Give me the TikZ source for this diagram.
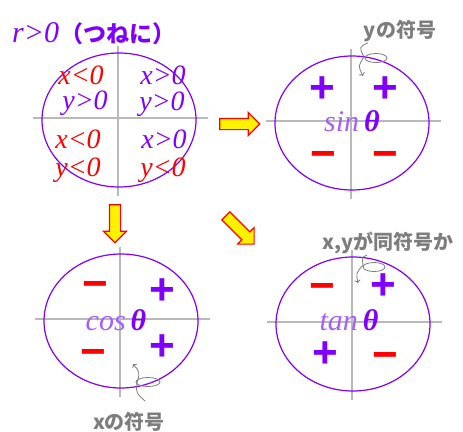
\documentclass[tikz,border=0pt]{standalone}
\usepackage{fontspec}
\setmainfont{Liberation Serif}
\newfontfamily\jpfont{Noto Sans CJK JP}
\newfontfamily\signfont{Liberation Sans}
\usetikzlibrary{shapes.arrows, arrows.meta}
\definecolor{sgnviolet}{RGB}{128,0,255}
\definecolor{fnviolet}{RGB}{165,95,255}
\definecolor{axisgray}{RGB}{185,185,185}
\definecolor{notegray}{RGB}{125,125,125}
\tikzset{
  ring/.style={draw=sgnviolet, line width=1.2pt},
  axisline/.style={draw=axisgray, line width=1.5pt},
  cond/.style={font=\fontsize{28}{28}\selectfont\itshape, inner sep=0pt},
  plus/.style={text=sgnviolet, font=\signfont\bfseries\fontsize{44}{44}\selectfont,
    inner sep=0pt, text height=25pt, text depth=0pt},
  minus/.style={plus, text=red},
  fn/.style={font=\fontsize{30}{30}\selectfont, inner sep=0pt, text depth=0pt},
  note/.style={text=notegray, font=\jpfont\bfseries\fontsize{20}{20}\selectfont, inner sep=1pt},
  callout/.style={draw=notegray, line width=0.8pt},
  blockarrow/.style={single arrow, draw=red, fill=yellow, line width=1.2pt,
    inner sep=5pt, minimum width=22pt, minimum height=40pt,
    single arrow head extend=6pt}
}
\begin{document}
\begin{tikzpicture}[x=1pt, y=-1pt]
\useasboundingbox (0,0) rectangle (463,431);

\foreach \p/\cx/\cy in {tl/118/118, tr/351/121, bl/120/319, br/352/322}
{
  \coordinate (\p) at (\cx,\cy);
  \draw[axisline] (\cx-85,\cy) -- (\cx+90,\cy);
  \draw[axisline] (\cx,\cy-72) -- (\cx,\cy+78);
  \draw[ring] (\cx+1,\cy+2) ellipse (77 and 67);
}

\node[anchor=west, text=sgnviolet, inner sep=0pt] (rpos) at (12,34)
  {{\fontsize{30}{30}\selectfont\itshape r>0}\,{\jpfont\bfseries\fontsize{23}{23}\selectfont （つねに）}};

\foreach \lbl/\col/\px/\py [count=\i] in {
  x<0/red/81/75, y>0/sgnviolet/85/103,
  x>0/sgnviolet/163/75, y>0/sgnviolet/162/104,
  x<0/red/78/139, y<0/red/78/170,
  x>0/sgnviolet/164/139, y<0/red/163/170}
{
  \node[cond, text=\col] (cond\i) at (\px,\py) {\lbl};
}

\node[blockarrow] (toSin) at (237,124) {};
\node[blockarrow, shape border rotate=270, minimum height=38pt] (toCos) at (115,221) {};
\node[blockarrow, rotate=-45] (toTan) at (238,228) {};

\foreach \px/\py [count=\i] in {322/90, 385/90, 162/292, 162/348, 383/287, 325/355}
  \node[plus] (plus\i) at (\px,\py) {+};
\foreach \px/\py [count=\i] in {323/156, 385/156, 95/286, 93/354, 322/288, 385/357}
  \node[minus] (minus\i) at (\px,\py) {−};

\node[fn] (sinfn) at (352,121) {\textcolor{fnviolet}{\itshape sin}\,\textcolor{sgnviolet}{\bfseries\itshape θ}};
\node[fn] (cosfn) at (116,320) {\textcolor{fnviolet}{\itshape cos}\,\textcolor{sgnviolet}{\bfseries\itshape θ}};
\node[fn] (tanfn) at (349,320) {\textcolor{fnviolet}{\itshape tan}\,\textcolor{sgnviolet}{\bfseries\itshape θ}};

% y sign
\node[note] (ysign) at (400,31) {yの符号};
\coordinate (yloop) at (364,57);
\coordinate (ytip) at (363,76);
\draw[callout] ([xshift=5pt]ysign.south west) .. controls (359,47) .. (yloop);
\draw[callout] (376,58) ellipse (11 and 4.5);
\draw[callout, -{To[length=3pt]}] (yloop) .. controls (358,66) .. (ytip);

% x sign
\node[note] (xsign) at (129,422) {xの符号};
\coordinate (xfoot) at (145,401);
\coordinate (xloop) at (137,383);
\coordinate (xtip) at (133,364);
\draw[callout] (xfoot) .. controls (136,393) .. (xloop);
\draw[callout] (148,382) ellipse (12 and 4.5);
\draw[callout, -{To[length=3pt]}] (xloop) .. controls (140,372) .. (xtip);

% same sign
\node[note] (xysign) at (388,243) {x,yが同符号か};
\coordinate (xyloop) at (363,265);
\coordinate (xytip) at (358,283);
\draw[callout] ([xshift=-21pt]xysign.south) .. controls (362,257) .. (xyloop);
\draw[callout] (374,267) ellipse (11 and 4.5);
\draw[callout, -{To[length=3pt]}] (xyloop) .. controls (356,273) .. (xytip);
\end{tikzpicture}
\end{document}
